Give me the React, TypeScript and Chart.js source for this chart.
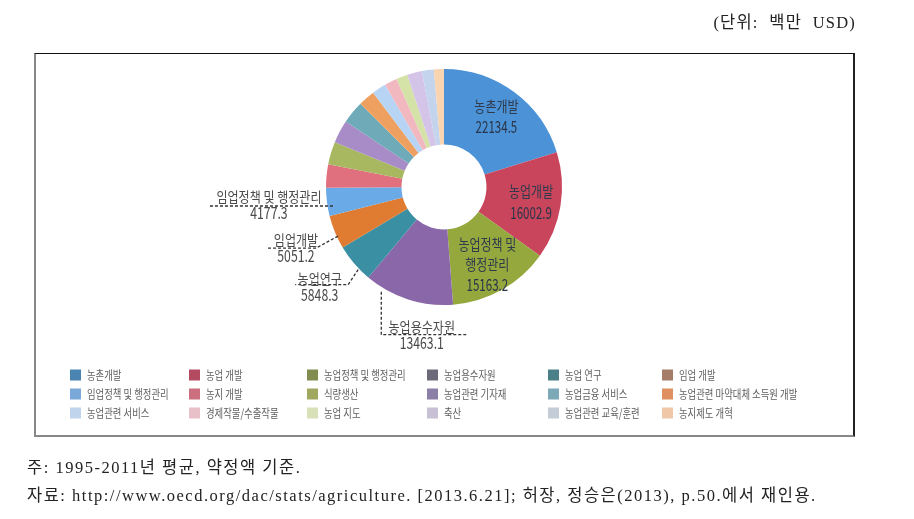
import React, { useEffect, useRef } from "react";
import { Chart, registerables } from "chart.js";

Chart.register(...registerables);

// ---- data ----
const categories: string[] = [
  "농촌개발",
  "농업 개발",
  "농업정책 및 행정관리",
  "농업용수자원",
  "농업 연구",
  "임업 개발",
  "임업정책 및 행정관리",
  "농지 개발",
  "식량생산",
  "농업관련 기자재",
  "농업금융 서비스",
  "농업관련 마약대체 소득원 개발",
  "농업관련 서비스",
  "경제작물/수출작물",
  "농업 지도",
  "축산",
  "농업관련 교육/훈련",
  "농지제도 개혁",
];

const values: number[] = [
  22134.5, 16002.9, 15163.2, 13463.1, 5848.3, 5051.2, 4177.3,
  3500, 3400, 3450, 3400, 2500, 2100, 1900, 1700, 2200, 1800, 1500,
];

// labels drawn on/near slices (index -> lines)
const sliceLabelLines: string[][] = [
  ["농촌개발"],
  ["농업개발"],
  ["농업정책 및", "행정관리"],
  ["농업용수자원"],
  ["농업연구"],
  ["임업개발"],
  ["임업정책 및 행정관리"],
];

const sliceColors: string[] = [
  "#4b93d6", "#c8455c", "#94a83e", "#8a67a8", "#3b8fa3", "#e07b32",
  "#6aaae6", "#e0707e", "#a8b860", "#a88cc8", "#6eaab8", "#eea060",
  "#b8d4f4", "#f2b8c0", "#d4e2a8", "#d4c4e8", "#c4d4ec", "#f8d4b0",
];

const legendColors: string[] = [
  "#4a84b0", "#b44a60", "#808c50", "#6c6a78", "#4c8088", "#a47c68",
  "#7aa8d8", "#cc7080", "#a0a860", "#8c80a8", "#7ca8b8", "#e09060",
  "#c0d4ec", "#e8c0c8", "#d8e0b8", "#c8c0d4", "#c4ccd8", "#f0c8a8",
];

const unitText = "(단위:  백만  USD)";
const noteLines: string[] = [
  "주: 1995-2011년 평균, 약정액 기준.",
  "자료: http://www.oecd.org/dac/stats/agriculture. [2013.6.21]; 허장, 정승은(2013), p.50.에서 재인용.",
];

// ---- layout constants ----
const W = 914;
const H = 519;
const CX = 444;
const CY = 187;
const R_OUT = 118;
const R_IN = 45;
const FONT = '"Noto Sans CJK KR", "Noto Sans", sans-serif';

function ctext(ctx: CanvasRenderingContext2D, text: string, x: number, y: number, sx: number) {
  ctx.save();
  ctx.translate(x, y);
  ctx.scale(sx, 1);
  ctx.fillText(text, 0, 0);
  ctx.restore();
}

const labelsPlugin = {
  id: "sliceLabels",
  afterDatasetsDraw(chart: any) {
    const ctx: CanvasRenderingContext2D = chart.ctx;
    const arcs = chart.getDatasetMeta(0).data as any[];
    const geo = (i: number) =>
      arcs[i].getProps(["x", "y", "startAngle", "endAngle", "innerRadius", "outerRadius"], true);
    const pt = (i: number, frac: number, r: number) => {
      const a = geo(i);
      const ang = a.startAngle + (a.endAngle - a.startAngle) * frac;
      return { x: a.x + r * Math.cos(ang), y: a.y + r * Math.sin(ang) };
    };
    const fmt = (v: number) => v.toFixed(1);

    // inside labels
    ctx.save();
    ctx.textAlign = "center";
    ctx.textBaseline = "middle";
    for (const i of [0, 1, 2]) {
      const a = geo(i);
      const c = pt(i, 0.5, (a.innerRadius + a.outerRadius) / 2 + 8);
      const lines = sliceLabelLines[i];
      const total = lines.length + 1;
      const lh = 20;
      let y = c.y - ((total - 1) * lh) / 2;
      for (const l of lines) {
        ctx.font = `15px ${FONT}`;
        ctx.fillStyle = "#2f3a4c";
        ctext(ctx, l, c.x, y, 0.8);
        y += lh;
      }
      ctx.font = `17px ${FONT}`;
      ctx.fillStyle = "#2a3448";
      ctext(ctx, fmt(values[i]), c.x, y + 1, 0.68);
    }
    ctx.restore();

    // outside callouts
    ctx.save();
    ctx.strokeStyle = "#333333";
    ctx.lineWidth = 1.3;
    ctx.setLineDash([3, 2]);
    const drawPath = (pts: { x: number; y: number }[]) => {
      ctx.beginPath();
      ctx.moveTo(pts[0].x, pts[0].y);
      for (let k = 1; k < pts.length; k++) ctx.lineTo(pts[k].x, pts[k].y);
      ctx.stroke();
    };
    const textAt = (i: number, x: number, baseY: number) => {
      ctx.setLineDash([]);
      ctx.fillStyle = "#4a4a4a";
      ctx.textAlign = "center";
      ctx.textBaseline = "alphabetic";
      ctx.font = `14px ${FONT}`;
      ctext(ctx, sliceLabelLines[i][0], x, baseY, 0.86);
      ctx.font = `17px ${FONT}`;
      ctext(ctx, fmt(values[i]), x, baseY + 17, 0.72);
      ctx.setLineDash([3, 2]);
    };

    // 임업정책 및 행정관리 : horizontal leader
    {
      const a = pt(6, 0.5, R_OUT);
      const y = a.y + 4;
      const x1 = a.x + 6;
      const x0 = x1 - 124;
      drawPath([{ x: x1, y }, { x: x0, y }]);
      textAt(6, (x0 + x1) / 2 - 2, y - 4);
    }
    // 임업개발 : diagonal + horizontal
    {
      const a = pt(5, 0.5, R_OUT);
      const p1 = { x: a.x + 3, y: a.y + 4 };
      const p2 = { x: p1.x - 22, y: p1.y + 12 };
      const p3 = { x: p2.x - 48, y: p2.y };
      drawPath([p1, p2, p3]);
      textAt(5, (p2.x + p3.x) / 2 + 4, p2.y - 3);
    }
    // 농업연구 : diagonal + horizontal
    {
      const a = pt(4, 0.5, R_OUT);
      const p1 = { x: a.x + 4, y: a.y + 6 };
      const p2 = { x: p1.x - 10, y: p1.y + 15 };
      const p3 = { x: p2.x - 53, y: p2.y };
      drawPath([p1, p2, p3]);
      textAt(4, (p2.x + p3.x) / 2 - 2, p2.y - 1);
    }
    // 농업용수자원 : vertical + horizontal
    {
      const a = pt(3, 0.85, R_OUT);
      const p1 = { x: a.x + 2, y: a.y + 6 };
      const p2 = { x: p1.x, y: p1.y + 43 };
      const p3 = { x: p2.x + 85, y: p2.y };
      drawPath([p1, p2, p3]);
      textAt(3, (p2.x + p3.x) / 2 - 2, p2.y - 3);
    }
    ctx.restore();

    // legend (6 columns x 3 rows)
    const colX = [70, 189, 307, 427, 548, 662];
    const rowY = [375, 394, 413];
    ctx.save();
    ctx.textAlign = "left";
    ctx.textBaseline = "middle";
    ctx.font = `12px ${FONT}`;
    const labels: string[] = chart.data.labels;
    labels.forEach((lab, i) => {
      const x = colX[i % 6];
      const y = rowY[Math.floor(i / 6)];
      ctx.fillStyle = legendColors[i];
      ctx.fillRect(x, y - 5.5, 11, 11);
      ctx.fillStyle = "#5e5e5e";
      ctext(ctx, lab, x + 17, y + 0.5, 0.78);
    });
    ctx.restore();
  },
};

export default function App() {
  const ref = useRef<HTMLCanvasElement>(null);

  useEffect(() => {
    const canvas = ref.current;
    if (!canvas) return;
    const half = 125;
    const chart = new Chart(canvas, {
      type: "doughnut",
      data: {
        labels: categories,
        datasets: [
          {
            data: values,
            backgroundColor: sliceColors,
            borderWidth: 0,
            hoverOffset: 0,
          },
        ],
      },
      options: {
        responsive: false,
        animation: false,
        radius: R_OUT,
        cutout: R_IN,
        layout: {
          padding: {
            left: CX - half,
            right: W - (CX + half),
            top: CY - half,
            bottom: H - (CY + half),
          },
        },
        plugins: {
          legend: { display: false },
          tooltip: { enabled: false },
        },
      } as any,
      plugins: [labelsPlugin as any],
    });
    return () => chart.destroy();
  }, []);

  const serif = '"Liberation Serif", "DejaVu Serif", "Noto Sans CJK KR", serif';

  return (
    <div
      style={{
        position: "absolute",
        left: 0,
        top: 0,
        width: W,
        height: H,
        background: "#ffffff",
        overflow: "hidden",
      }}
    >
      <div
        style={{
          position: "absolute",
          left: 34,
          top: 53,
          width: 817,
          height: 381,
          borderTop: "1.5px solid #111",
          borderLeft: "2px solid #888",
          borderRight: "2px solid #222",
          borderBottom: "2px solid #888",
        }}
      />
      <canvas
        ref={ref}
        width={W}
        height={H}
        style={{ position: "absolute", left: 0, top: 0, width: W, height: H }}
      />
      <div
        style={{
          position: "absolute",
          right: W - 856,
          top: 9,
          fontFamily: serif,
          fontSize: 16.5,
          letterSpacing: 1.2,
          color: "#222",
          whiteSpace: "pre",
        }}
      >
        {unitText}
      </div>
      {noteLines.map((t, i) => (
        <div
          key={i}
          style={{
            position: "absolute",
            left: 27,
            top: 454 + i * 28,
            fontFamily: serif,
            fontSize: 16.5,
            letterSpacing: 1.5,
            color: "#222",
            whiteSpace: "pre",
          }}
        >
          {t}
        </div>
      ))}
    </div>
  );
}
